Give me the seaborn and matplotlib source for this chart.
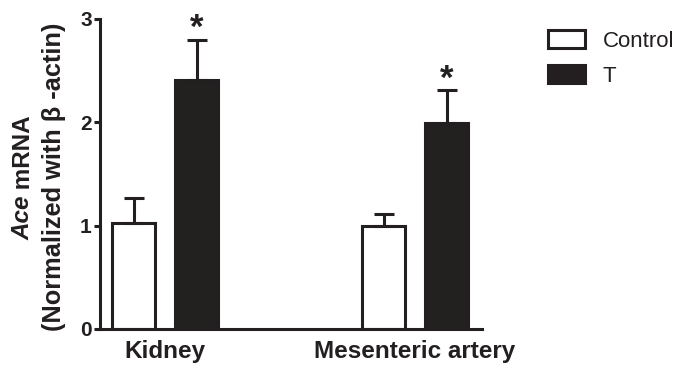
import pandas as pd
import matplotlib
matplotlib.use('Agg')
import matplotlib.pyplot as plt
from matplotlib.patches import Patch
import seaborn as sns

# === DATA ===
tissues = ['Kidney', 'Mesenteric artery']
groups = ['Control', 'T']
control_mean = [1.03, 1.00]
control_sem = [0.24, 0.115]
t_mean = [2.41, 1.99]
t_sem = [0.39, 0.32]
significant = [False, False, True, True]  # control kidney, control mes, T kidney, T mes

ink = '#231f20'

df = pd.DataFrame({
    'tissue': tissues * 2,
    'group': [groups[0]] * 2 + [groups[1]] * 2,
    'mean': control_mean + t_mean,
    'sem': control_sem + t_sem,
})

sns.set_style('white')
plt.rcParams['font.family'] = ['Liberation Sans', 'DejaVu Sans']

fig = plt.figure(figsize=(6.81, 3.71), dpi=100)
ax = fig.add_axes([100 / 681, 42 / 371, 382 / 681, 310 / 371])

sns.barplot(data=df, x='tissue', y='mean', hue='group', hue_order=groups,
            palette={'Control': 'white', 'T': ink}, edgecolor=ink, linewidth=2.2,
            width=0.504, gap=0.317, errorbar=None, legend=False, ax=ax)

# === ERROR BARS (upper only) + ASTERISKS ===
i = 0
for cont, grp in zip(ax.containers, groups):
    sub = df[df['group'] == grp]
    for bar, m, s in zip(cont, sub['mean'], sub['sem']):
        xc = bar.get_x() + bar.get_width() / 2
        ax.errorbar(xc, m, yerr=[[0], [s]], fmt='none', ecolor=ink,
                    elinewidth=2.2, capsize=7.5, capthick=2.2, zorder=3)
        if significant[i]:
            ax.annotate('*', xy=(xc, m + s), xytext=(0, -4), textcoords='offset points',
                        ha='center', va='bottom', fontsize=25, fontweight='bold', color=ink)
        i += 1

ax.set_ylim(0, 3)
ax.set_xlim(-0.26, 1.268)
ax.set_yticks([0, 1, 2, 3])
ax.set_xlabel('')
ax.set_ylabel('')
for side in ['top', 'right']:
    ax.spines[side].set_visible(False)
for side in ['left', 'bottom']:
    ax.spines[side].set_linewidth(2.2)
    ax.spines[side].set_color(ink)
ax.tick_params(axis='y', left=True, length=4, width=2.2, color=ink,
               labelsize=15, labelcolor=ink, pad=2)
ax.tick_params(axis='x', bottom=False, length=0, labelsize=17.5, labelcolor=ink, pad=8)
for lab in ax.get_yticklabels() + ax.get_xticklabels():
    lab.set_fontweight('bold')

# === Y LABEL (two lines, "Ace" in italic) ===
fig.text(30 / 681, 1 - 196 / 371, 'Ace', rotation=90, rotation_mode='anchor',
         ha='right', va='baseline', fontsize=17.5, fontweight='bold',
         fontstyle='italic', color=ink)
fig.text(30 / 681, 1 - 196 / 371, ' mRNA', rotation=90, rotation_mode='anchor',
         ha='left', va='baseline', fontsize=17.5, fontweight='bold', color=ink)
fig.text(54 / 681, 1 - 177 / 371, '(Normalized with \u03b2 -actin)', rotation=90,
         rotation_mode='anchor', ha='center', va='center', fontsize=18.3,
         fontweight='bold', color=ink)

# === LEGEND ===
handles = [Patch(facecolor='white', edgecolor=ink, linewidth=2.2),
           Patch(facecolor=ink, edgecolor=ink, linewidth=2.2)]
fig.legend(handles, groups, loc='upper left', bbox_to_anchor=(548 / 681, 1 - 30 / 371),
           frameon=False, fontsize=16, handlelength=1.67, handleheight=0.86,
           labelspacing=0.6, handletextpad=0.8, borderpad=0, borderaxespad=0,
           labelcolor=ink)

fig.savefig('out.png', dpi=100)
